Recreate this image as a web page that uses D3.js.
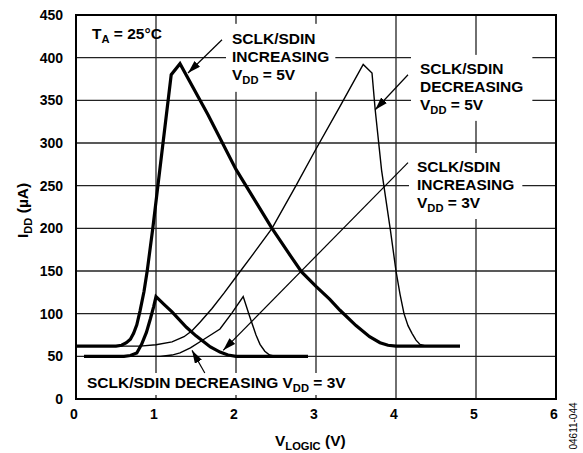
<!DOCTYPE html>
<html><head><meta charset="utf-8">
<script src="https://cdn.jsdelivr.net/npm/d3@7"></script>
<style>
body{margin:0;background:#fff}
text{font-family:"Liberation Sans",Arial,Helvetica,sans-serif;font-weight:bold;fill:#000}
</style>
</head><body>
<svg id="c" width="583" height="453"></svg>
<script>
// ---------- data ----------
const xTicks = [0, 1, 2, 3, 4, 5, 6];
const yTicks = [0, 50, 100, 150, 200, 250, 300, 350, 400, 450];

// SCLK/SDIN INCREASING, VDD = 5V (bold)
const inc5V = [[0,62],[0.5,62],[0.57,63],[0.63,66],[0.68,70],[0.72,77],[0.76,87],[0.8,103],[0.85,126],[0.89,150],[0.96,200],[1.19,380],[1.3,393],[1.65,333],[2.0,269],[2.45,200],[2.65,172],[2.82,149],[3.0,132],[3.17,117],[3.3,104],[3.5,86],[3.67,73],[3.8,66],[3.9,63],[4.0,62],[4.8,62]];
// SCLK/SDIN DECREASING, VDD = 5V (thin)
const dec5V = [[0,62],[0.8,62],[1.0,63.5],[1.2,67],[1.35,73],[1.45,80],[1.55,90],[1.7,106],[1.85,124],[2.0,143],[2.2,168],[2.45,200],[2.75,250],[3.0,293],[3.3,343],[3.59,392],[3.7,382],[3.74,339],[3.82,268],[3.93,198],[4.0,150],[4.05,123],[4.1,100],[4.15,86],[4.2,77],[4.25,69],[4.3,64],[4.38,62],[4.8,62]];
// SCLK/SDIN DECREASING, VDD = 3V (bold)
const dec3V = [[0.1,50],[0.6,50],[0.68,51],[0.76,54],[0.82,64],[0.88,78],[0.93,94],[0.97,108],[1.0,120],[1.1,111],[1.2,102],[1.38,84],[1.5,74],[1.68,61],[1.8,55],[1.9,51.5],[2.0,50],[2.9,50]];
// SCLK/SDIN INCREASING, VDD = 3V (thin)
const inc3V = [[0.1,50],[1.05,50],[1.2,51.5],[1.3,54],[1.43,60],[1.6,70],[1.8,82],[1.95,101],[2.09,120],[2.17,97],[2.25,75],[2.3,64],[2.36,56],[2.42,51.5],[2.5,50],[2.9,50]];

// annotation arrows: [tailX, tailY, tipX, tipY] in data units
const arrows = [[1.825,421,1.4,382],[4.15,380,3.74,339],[4.15,277,1.84,57],[1.61,30.5,1.45,57]];

// ---------- drawing ----------
const svg = d3.select("#c");
const x = d3.scaleLinear().domain([0,6]).range([76,556]);
const y = d3.scaleLinear().domain([0,450]).range([399,15]);

const grid = svg.append("g").attr("stroke","#222").attr("stroke-width",1.3);
grid.selectAll("line.v").data(xTicks.slice(1,-1)).join("line")
  .attr("x1",d=>x(d)).attr("x2",d=>x(d)).attr("y1",y(0)).attr("y2",y(450));
grid.selectAll("line.h").data(yTicks.slice(1,-1)).join("line").attr("class","h")
  .attr("y1",d=>y(d)).attr("y2",d=>y(d)).attr("x1",x(0)).attr("x2",x(6));

// tick labels
svg.append("g").selectAll("text").data(yTicks).join("text")
  .attr("x",63).attr("y",d=>y(d)+5).attr("text-anchor","end").attr("font-size",14).text(d=>d);
svg.append("g").selectAll("text").data(xTicks).join("text")
  .attr("x",d=>x(d)-2).attr("y",419).attr("text-anchor","middle").attr("font-size",14).text(d=>d);

// labels with white boxes
const boxLayer = svg.append("g");
const curveLayer = svg.append("g");
const textLayer = svg.append("g");

function addSegs(t, segs, size){
  let shifted=false;
  segs.forEach(s=>{
    const ts=t.append("tspan").text(s.t);
    if(s.sub){ ts.attr("font-size",size*0.72).attr("dy",4); shifted=true; }
    else if(shifted){ ts.attr("dy",-4); shifted=false; }
  });
}
function label(lines, x0, y0, opts){
  const size=opts.size||15.5, lh=opts.lh||18;
  const g=textLayer.append("g");
  lines.forEach((ln,i)=>{
    const t=g.append("text").attr("x",x0).attr("y",y0+i*lh).attr("font-size",size);
    addSegs(t, typeof ln==="string"?[{t:ln}]:ln, size);
  });
  if(opts.box){
    const b=g.node().getBBox();
    const px=opts.px||6, py=opts.py||5;
    boxLayer.append("rect").attr("x",b.x-px).attr("y",b.y-py)
      .attr("width",b.width+2*px).attr("height",b.height+2*py).attr("fill","#fff");
  }
}
label(["SCLK/SDIN","INCREASING",[{t:"V"},{t:"DD",sub:true},{t:" = 5V"}]], x(1.95), y(416.2), {box:true,px:6,py:6});
label(["SCLK/SDIN","DECREASING",[{t:"V"},{t:"DD",sub:true},{t:" = 5V"}]], x(4.3), y(381), {box:true,px:9,py:5});
label(["SCLK/SDIN","INCREASING",[{t:"V"},{t:"DD",sub:true},{t:" = 3V"}]], x(4.2625), y(266), {box:true,px:8,py:5});
label([[{t:"SCLK/SDIN DECREASING V"},{t:"DD",sub:true},{t:" = 3V"}]], x(0.1375), y(12.9), {box:true,px:5,py:1});
label([[{t:"T"},{t:"A",sub:true},{t:" = 25°C"}]], x(0.2), y(421.5), {box:false});

// curves
const line = d3.line().x(d=>x(d[0])).y(d=>y(d[1]));
const series=[{d:dec5V,w:1.4},{d:inc3V,w:1.4},{d:inc5V,w:3.2},{d:dec3V,w:3.2}];
curveLayer.selectAll("path").data(series).join("path")
  .attr("d",s=>line(s.d)).attr("fill","none").attr("stroke","#000")
  .attr("stroke-width",s=>s.w).attr("stroke-linejoin","miter");

// arrows
const defs=svg.append("defs");
defs.append("marker").attr("id","ah").attr("markerUnits","userSpaceOnUse")
  .attr("markerWidth",14).attr("markerHeight",10).attr("refX",13).attr("refY",4)
  .attr("orient","auto").append("path").attr("d","M0,0L13,4L0,8Z").attr("fill","#000");
svg.append("g").selectAll("line").data(arrows).join("line")
  .attr("x1",d=>x(d[0])).attr("y1",d=>y(d[1])).attr("x2",d=>x(d[2])).attr("y2",d=>y(d[3]))
  .attr("stroke","#000").attr("stroke-width",1.2).attr("marker-end","url(#ah)");

// frame
svg.append("rect").attr("x",x(0)).attr("y",y(450)).attr("width",x(6)-x(0)).attr("height",y(0)-y(450))
  .attr("fill","none").attr("stroke","#000").attr("stroke-width",2);

// axis titles
const xt=svg.append("text").attr("x",275).attr("y",446).attr("font-size",15.5);
addSegs(xt,[{t:"V"},{t:"LOGIC",sub:true},{t:" (V)"}],15.5);
const yt=svg.append("text").attr("transform","translate(28,238) rotate(-90)").attr("font-size",15.5);
addSegs(yt,[{t:"I"},{t:"DD",sub:true},{t:" (µA)"}],15.5);
svg.append("text").attr("transform","translate(577,426) rotate(-90)").attr("text-anchor","middle")
  .attr("font-size",10).attr("font-weight","normal").style("font-weight","normal").text("04611-044");
</script>
</body></html>
